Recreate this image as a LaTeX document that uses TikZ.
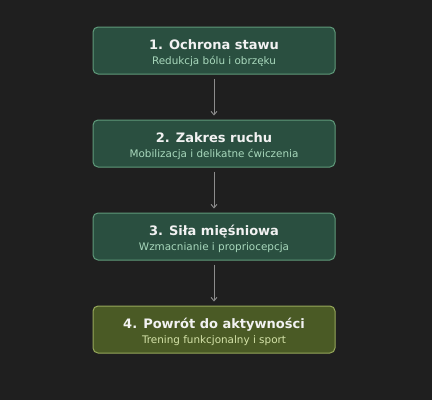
\documentclass[tikz,border=0pt]{standalone}
\usepackage{fontspec}
\setmainfont{DejaVu Sans}
\usetikzlibrary{arrows.meta}
\definecolor{bgc}{HTML}{1F1F1F}
\definecolor{gfill}{HTML}{2A4F40}
\definecolor{gline}{HTML}{5F9A7A}
\definecolor{ofill}{HTML}{4A5A25}
\definecolor{oline}{HTML}{96A85A}
\definecolor{ttext}{HTML}{F2F2F2}
\definecolor{gsub}{HTML}{A8D8BC}
\definecolor{osub}{HTML}{D4E2A8}
\definecolor{arrc}{HTML}{8C8C8C}
\tikzset{
  stagebox/.style={draw=gline, fill=gfill, line width=1pt, rounded corners=5pt,
    minimum width=242pt, minimum height=47pt, inner sep=0pt},
  finalbox/.style={stagebox, draw=oline, fill=ofill},
  titletext/.style={text=ttext, font=\bfseries\fontsize{13}{15}\selectfont, inner sep=0pt, anchor=base},
  subtext/.style={text=gsub, font=\fontsize{10.4}{12}\selectfont, inner sep=0pt, anchor=base},
  finalsub/.style={subtext, text=osub},
  flow/.style={draw=arrc, line width=0.9pt, -{Straight Barb[length=3.5pt,width=6pt]},
    shorten <=4pt, shorten >=4pt}
}
\begin{document}
\begin{tikzpicture}[x=1pt,y=-1pt]
\fill[bgc] (0,0) rectangle (432,400);
\useasboundingbox (0,0) rectangle (432,400);
\node[stagebox] (b1) at (214,50.5) {};
\node[stagebox] (b2) at (214,143.5) {};
\node[stagebox] (b3) at (214,236.5) {};
\node[finalbox] (b4) at (214,329.5) {};
\node[titletext] (t1) at (214,49.4) {1. Ochrona stawu};
\node[subtext] (s1) at (214,64.8) {Redukcja bólu i obrzęku};
\node[titletext] (t2) at (214,142.4) {2. Zakres ruchu};
\node[subtext] (s2) at (214,157.8) {Mobilizacja i delikatne ćwiczenia};
\node[titletext] (t3) at (214,235.4) {3. Siła mięśniowa};
\node[subtext] (s3) at (214,250.8) {Wzmacnianie i propriocepcja};
\node[titletext] (t4) at (214,328.4) {4. Powrót do aktywności};
\node[finalsub] (s4) at (214,343.8) {Trening funkcjonalny i sport};
\draw[flow] (b1) -- (b2);
\draw[flow] (b2) -- (b3);
\draw[flow] (b3) -- (b4);
\end{tikzpicture}
\end{document}
